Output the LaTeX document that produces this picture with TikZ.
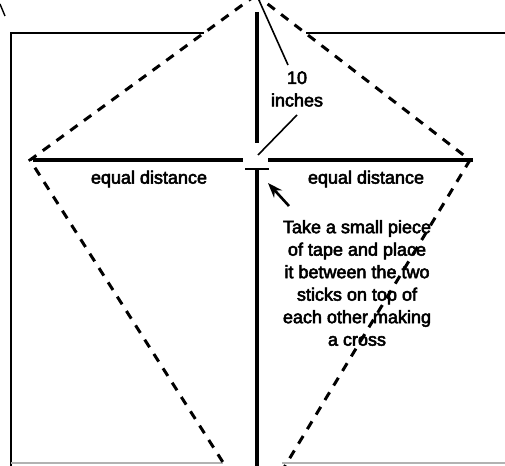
\documentclass[tikz,border=0pt]{standalone}
\usepackage{fontspec}
\setmainfont{Liberation Sans}
\newfontfamily\scanfont{Liberation Sans}[FakeBold=3]
\usetikzlibrary{arrows.meta}
\begin{document}
\begin{tikzpicture}[x=1pt,y=-1pt,
  frameline/.style={line width=2.2pt,black},
  stick/.style={line width=3.6pt,black},
  kiteline/.style={line width=3pt,dash pattern=on 9pt off 8pt},
  leader/.style={line width=1.6pt},
  lbl/.style={font=\scanfont\fontsize{18}{22.5}\selectfont,inner sep=0pt,align=center}]
\useasboundingbox (0,0) rectangle (505,465);
\clip (0,0) rectangle (505,465);
% frame
\coordinate (ftl) at (11,33);
\coordinate (ftA) at (204,33);
\coordinate (ftB) at (306,33);
\coordinate (ftr) at (506,33);
\coordinate (fbl) at (11,466);
\draw[frameline] (ftA) -- (ftl) -- (fbl);
\draw[frameline] (ftB) -- (ftr);
\coordinate (fb1) at (11,463);
\coordinate (fb2) at (223,463);
\coordinate (fb3) at (282,463);
\coordinate (fb4) at (506,463);
\draw[gray!60,line width=1.4pt] (fb1) -- (fb2) (fb3) -- (fb4);
% stray mark
\coordinate (s1) at (0,4);
\coordinate (s2) at (5,16);
\draw[line width=1.4pt] (s1) -- (s2);
% kite
\coordinate (ktop) at (256,-5);
\coordinate (kleft) at (30,160);
\coordinate (kbot) at (256,514);
\coordinate (kright) at (470,160);
\draw[kiteline] (ktop) -- (kleft) -- (kbot) -- (kright) -- cycle;
% sticks
\coordinate (vt) at (257,12);
\coordinate (vm) at (257,143);
\coordinate (vb) at (257,170);
\coordinate (vbot) at (257,466);
\draw[stick] (vt) -- (vm);
\draw[stick] (vb) -- (vbot);
\coordinate (hl) at (33,160);
\coordinate (hlm) at (243,160);
\coordinate (hrm) at (268,160);
\coordinate (hr) at (473,160);
\draw[stick] (hl) -- (hlm);
\draw[stick] (hrm) -- (hr);
\coordinate (tl) at (245,169);
\coordinate (tr) at (269,169);
\draw[line width=2.2pt] (tl) -- (tr);
% 10 inches
\node[lbl] (ten) at (297,89) {10\\inches};
\coordinate (lt1) at (258,-2);
\coordinate (lt2) at (288,65);
\coordinate (lb1) at (297,115);
\coordinate (lb2) at (258,155);
\draw[leader] (lt1) -- (lt2);
\draw[leader] (lb1) -- (lb2);
% equal distance
\node[lbl] (edl) at (149,179) {equal distance};
\node[lbl] (edr) at (366,179) {equal distance};
% arrow
\coordinate (at) at (289,206);
\coordinate (ah) at (268,183);
\draw[line width=2.6pt,-{Stealth[length=15pt,width=11pt]}] (at) -- (ah);
% note
\node[lbl] (note) at (357,283) {Take a small piece\\of tape and place\\it between the two\\sticks on top of\\each other making\\a cross};
\end{tikzpicture}
\end{document}
